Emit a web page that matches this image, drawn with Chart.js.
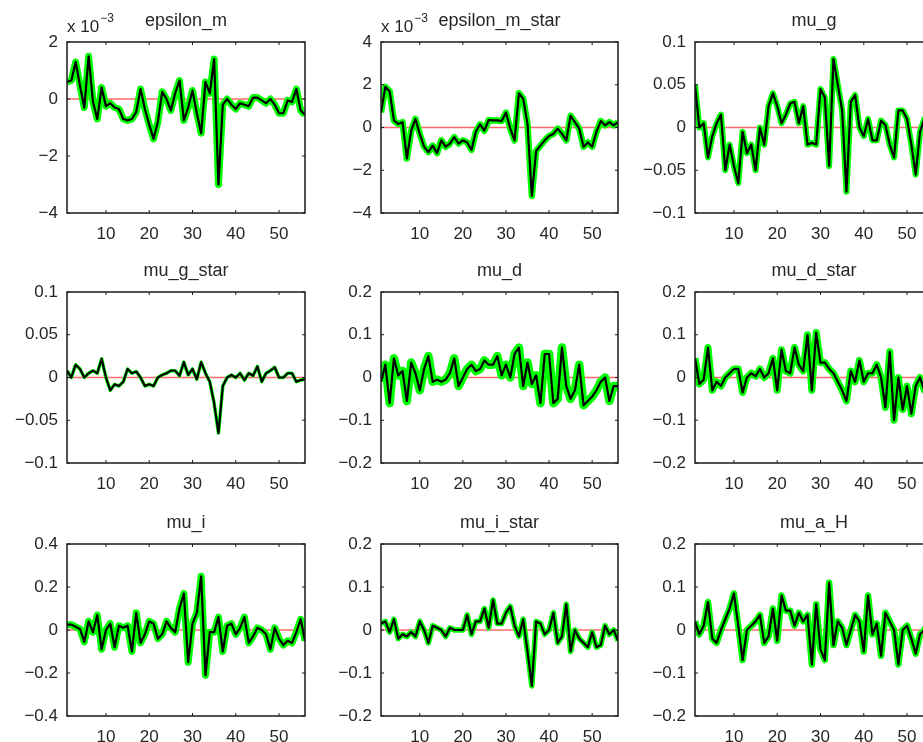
<!DOCTYPE html>
<html>
<head>
<meta charset="utf-8">
<script src="https://cdn.jsdelivr.net/npm/chart.js@4.4.1/dist/chart.umd.min.js"></script>
<style>
  html, body { margin: 0; padding: 0; background: #fff; overflow: hidden; }
  #page { position: relative; width: 923px; height: 742px; overflow: hidden; }
  canvas { position: absolute; }
</style>
</head>
<body>
<div id="page"></div>
<script>
// periods on the x axis
const periods = Array.from({ length: 56 }, (_, i) => i + 1);
const xTicks = [10, 20, 30, 40, 50];

// smoothed shocks (black line), epsilon ones are in units of 10^-3
const epsilonM = [0.6, 0.65, 1.3, 0.47, -0.3, 1.5, -0.1, -0.7, 0.4, -0.25,
  -0.15, -0.3, -0.35, -0.7, -0.75, -0.7, -0.45, 0.35, -0.35, -0.9,
  -1.4, -0.8, 0.25, 0, -0.4, 0.2, 0.65, -0.75, -0.3, 0.3,
  -0.5, -1.2, 0.6, 0.2, 1.4, -3.0, -0.2, 0, -0.2, -0.35,
  -0.15, -0.2, -0.25, 0.05, 0.05, -0.05, -0.15, 0, -0.2, -0.5,
  -0.5, -0.05, -0.1, 0.35, -0.4, -0.55];
const epsilonMStar = [0.7, 1.9, 1.7, 0.33, 0.17, 0.25, -1.45, -0.15, 0.4, -0.3,
  -0.9, -1.15, -0.85, -1.2, -0.6, -0.9, -0.75, -0.45, -0.75, -0.6,
  -0.7, -1.05, -0.2, 0.15, -0.15, 0.35, 0.33, 0.33, 0.3, 0.7,
  -0.05, -0.6, 1.6, 1.35, 0.17, -3.2, -1.1, -0.85, -0.6, -0.4,
  -0.3, -0.05, -0.3, -0.6, 0.55, 0.25, -0.05, -0.9, -0.7, -0.9,
  -0.2, 0.3, 0.1, 0.25, 0.1, 0.25];
const muG = [0.05, 0, 0.005, -0.035, -0.01, 0.005, 0.015, -0.05, -0.02, -0.045,
  -0.065, -0.005, -0.03, -0.02, -0.05, 0, -0.02, 0.025, 0.04, 0.025,
  0.005, 0.015, 0.028, 0.03, 0.005, 0.025, -0.02, -0.018, -0.02, 0.045,
  0.035, -0.045, 0.08, 0.05, 0.02, -0.075, 0.03, 0.038, 0, -0.01,
  0.01, -0.015, -0.015, 0.008, 0.003, -0.02, -0.035, 0.02, 0.02, 0.01,
  -0.02, -0.055, -0.005, 0.01, -0.01, 0];
const muGStar = [0.008, 0, 0.015, 0.01, 0, 0.005, 0.008, 0.005, 0.022, 0,
  -0.015, -0.008, -0.01, -0.005, 0.01, 0.005, 0.007, 0, -0.01, -0.008,
  -0.01, 0, 0.003, 0.005, 0.008, 0.008, 0.002, 0.018, 0.003, 0.01,
  -0.002, 0.018, 0.005, -0.005, -0.03, -0.065, -0.01, 0, 0.003, 0,
  0.005, -0.003, 0.005, 0.002, 0.013, -0.005, 0.005, 0.008, 0.012, 0,
  0, 0.005, 0.005, -0.005, -0.003, -0.002];
const muD = [-0.01, 0.03, -0.06, 0.045, 0.005, 0.015, -0.055, 0.035, 0.01, -0.03,
  0.02, 0.05, -0.01, -0.005, -0.01, -0.005, 0.01, 0.045, -0.02, 0,
  0.02, 0.03, 0.015, 0.02, 0.04, 0.03, 0.03, 0.05, 0.005, 0.03,
  0, 0.055, 0.07, -0.02, 0.035, -0.015, 0.005, -0.06, 0.055, 0.055,
  -0.06, -0.05, 0.07, -0.02, -0.05, -0.03, 0.03, -0.065, -0.055, -0.045,
  -0.03, -0.01, 0, -0.055, -0.02, -0.02];
const muDStar = [0.045, -0.015, -0.005, 0.07, -0.03, -0.01, -0.02, 0, 0.01, 0.02,
  0.02, -0.035, 0, 0.01, 0.003, 0.02, 0, 0.01, 0.045, -0.03,
  0.065, 0.015, 0.01, 0.07, 0.03, 0.015, 0.1, -0.03, 0.105, 0.035,
  0.035, 0.02, 0.01, -0.01, -0.03, -0.055, 0.015, -0.01, 0.04, -0.01,
  0.01, 0.01, 0.03, 0, -0.07, 0.06, -0.1, 0, -0.075, -0.02,
  -0.085, -0.02, 0, -0.03, 0, 0];
const muI = [0.025, 0.025, 0.015, 0.005, -0.055, 0.04, -0.01, 0.07, -0.09, 0,
  0.03, -0.08, 0.02, 0.01, 0.02, -0.1, 0.08, -0.06, -0.02, 0.04,
  0.03, -0.04, -0.02, 0.04, 0.01, -0.01, 0.1, 0.17, -0.15, 0.03,
  0.08, 0.25, -0.21, -0.01, -0.01, 0.06, -0.1, 0.02, 0.03, -0.02,
  0.01, 0.06, -0.06, -0.03, 0.01, 0, -0.02, -0.09, 0.01, -0.04,
  -0.07, -0.05, -0.06, -0.01, 0.05, -0.05];
const muIStar = [0.015, 0.02, -0.005, 0.025, -0.02, -0.01, -0.015, -0.005, -0.015, 0.02,
  0, -0.03, 0.01, 0.005, 0, -0.015, 0.005, 0, 0, 0,
  0.035, -0.01, 0.02, 0.02, 0.05, 0.005, 0.07, 0.015, 0.015, 0.04,
  0.055, 0.01, -0.015, 0.025, -0.05, -0.13, 0.02, 0.015, -0.01, 0,
  0.04, -0.03, -0.015, 0.06, -0.05, 0, -0.02, -0.03, -0.04, -0.005,
  -0.04, -0.035, 0.01, -0.01, 0, -0.025];
const muAH = [0.02, -0.01, 0.01, 0.065, -0.02, -0.03, 0, 0.025, 0.05, 0.085,
  0.01, -0.07, 0, 0.01, 0.02, 0.035, -0.03, -0.015, 0.05, -0.025,
  0.08, 0.045, 0.045, 0.01, 0.04, 0.02, 0.035, -0.08, 0.06, -0.045,
  -0.07, 0.11, -0.035, 0.02, 0.005, -0.035, 0, 0.035, 0.02, -0.05,
  0.08, -0.01, 0.015, -0.06, 0.04, 0.02, 0, -0.08, 0, 0.01,
  -0.02, -0.055, -0.01, 0, 0.02, 0];

// y tick labels
const yTicksEps = [-4, -2, 0, 2];
const yTicksEpsStar = [-4, -2, 0, 2, 4];
const yTicksSmall = [-0.1, -0.05, 0, 0.05, 0.1];
const yTicksMid = [-0.2, -0.1, 0, 0.1, 0.2];
const yTicksWide = [-0.4, -0.2, 0, 0.2, 0.4];

const panels = [
  { title: "epsilon_m", values: epsilonM, yTicks: yTicksEps, exponent: true, band: 7 },
  { title: "epsilon_m_star", values: epsilonMStar, yTicks: yTicksEpsStar, exponent: true, band: 6.5 },
  { title: "mu_g", values: muG, yTicks: yTicksSmall, band: 6 },
  { title: "mu_g_star", values: muGStar, yTicks: yTicksSmall, band: 3.5 },
  { title: "mu_d", values: muD, yTicks: yTicksMid, band: 8.5 },
  { title: "mu_d_star", values: muDStar, yTicks: yTicksMid, band: 7 },
  { title: "mu_i", values: muI, yTicks: yTicksWide, band: 7 },
  { title: "mu_i_star", values: muIStar, yTicks: yTicksMid, band: 5.5 },
  { title: "mu_a_H", values: muAH, yTicks: yTicksMid, band: 6.5 },
];

// grid of plot boxes (px)
const colLeft = [67, 381, 695];
const colWidth = [238, 237, 238];
const rowTop = [42, 292, 544];
const rowHeight = [171, 171, 172];
const AXIS_W = 62;
const TITLE_H = 40;
const XAXIS_H = 30;
const RIGHT_PAD = 10;

const textColor = "#262626";
const fontFamily = "'Liberation Sans', Arial, sans-serif";
Chart.defaults.font.family = fontFamily;
Chart.defaults.color = textColor;

const minus = (v) => String(v).replace("-", "\u2212");

// matlab style box, inward ticks, red zero line, title and x 10^-3 note
const matlabAxes = {
  id: "matlabAxes",
  beforeDatasetsDraw(chart) {
    const { ctx, chartArea, scales } = chart;
    const y0 = scales.y.getPixelForValue(0);
    ctx.save();
    ctx.strokeStyle = "#ff6b6b";
    ctx.lineWidth = 1.3;
    ctx.beginPath();
    ctx.moveTo(chartArea.left, y0);
    ctx.lineTo(chartArea.right, y0);
    ctx.stroke();
    ctx.restore();
  },
  afterDraw(chart, args, opts) {
    const { ctx, chartArea, scales } = chart;
    const a = chartArea;
    ctx.save();
    ctx.strokeStyle = "#1a1a1a";
    ctx.lineWidth = 1;
    ctx.beginPath();
    scales.x.ticks.forEach(function (t) {
      const px = scales.x.getPixelForValue(t.value);
      ctx.moveTo(px, a.bottom);
      ctx.lineTo(px, a.bottom - 3);
      ctx.moveTo(px, a.top);
      ctx.lineTo(px, a.top + 3);
    });
    scales.y.ticks.forEach(function (t) {
      const py = scales.y.getPixelForValue(t.value);
      ctx.moveTo(a.left, py);
      ctx.lineTo(a.left + 3, py);
      ctx.moveTo(a.right, py);
      ctx.lineTo(a.right - 3, py);
    });
    ctx.stroke();
    ctx.lineWidth = 1.5;
    ctx.strokeRect(a.left, a.top, a.right - a.left, a.bottom - a.top);

    // title centred over the plot box
    ctx.fillStyle = textColor;
    ctx.textAlign = "center";
    ctx.textBaseline = "middle";
    ctx.font = "18px " + fontFamily;
    ctx.fillText(opts.title, (a.left + a.right) / 2, a.top - 21);

    if (opts.exponent) {
      ctx.textBaseline = "alphabetic";
      ctx.textAlign = "left";
      ctx.font = "17px " + fontFamily;
      const base = "x 10";
      ctx.fillText(base, a.left, a.top - 10);
      const w = ctx.measureText(base).width;
      ctx.font = "12px " + fontFamily;
      ctx.fillText("\u22123", a.left + w + 1, a.top - 20);
    }
    ctx.restore();
  },
};

const page = document.getElementById("page");

panels.forEach(function (p, i) {
  const col = i % 3;
  const row = Math.floor(i / 3);
  const w = colWidth[col];
  const h = rowHeight[row];

  const canvas = document.createElement("canvas");
  canvas.width = AXIS_W + w + RIGHT_PAD;
  canvas.height = TITLE_H + h + XAXIS_H;
  canvas.style.left = colLeft[col] - AXIS_W + "px";
  canvas.style.top = rowTop[row] - TITLE_H + "px";
  page.appendChild(canvas);

  const data = {
    labels: periods,
    datasets: [
      {
        label: p.title,
        data: p.values,
        borderColor: "#000000",
        borderWidth: 2.2,
        borderJoinStyle: "round",
        pointRadius: 0,
        tension: 0,
      },
      {
        label: p.title + " draws",
        data: p.values,
        borderColor: "#00ff00",
        borderWidth: p.band,
        borderJoinStyle: "round",
        pointRadius: 0,
        tension: 0,
      },
    ],
  };

  const config = {
    type: "line",
    data: data,
    options: {
      responsive: false,
      animation: false,
      layout: { padding: { left: 0, right: RIGHT_PAD, top: TITLE_H, bottom: 0 } },
      plugins: {
        legend: { display: false },
        tooltip: { enabled: false },
        matlabAxes: { title: p.title, exponent: !!p.exponent },
      },
      scales: {
        x: {
          type: "linear",
          min: 1,
          max: 56,
          grid: { display: false, drawTicks: false },
          border: { display: false },
          afterBuildTicks: function (scale) {
            scale.ticks = xTicks.map((v) => ({ value: v }));
          },
          afterFit: function (scale) {
            scale.height = XAXIS_H;
          },
          ticks: {
            padding: 11,
            font: { size: 17 },
            maxRotation: 0,
            callback: (v) => minus(v),
          },
        },
        y: {
          min: p.yTicks[0],
          max: p.yTicks[p.yTicks.length - 1],
          grid: { display: false, drawTicks: false },
          border: { display: false },
          afterBuildTicks: function (scale) {
            scale.ticks = p.yTicks.map((v) => ({ value: v }));
          },
          afterFit: function (scale) {
            scale.width = AXIS_W;
          },
          ticks: {
            padding: 9,
            font: { size: 17 },
            callback: (v) => minus(v),
          },
        },
      },
    },
    plugins: [matlabAxes],
  };

  new Chart(canvas, config);
});
</script>
</body>
</html>
